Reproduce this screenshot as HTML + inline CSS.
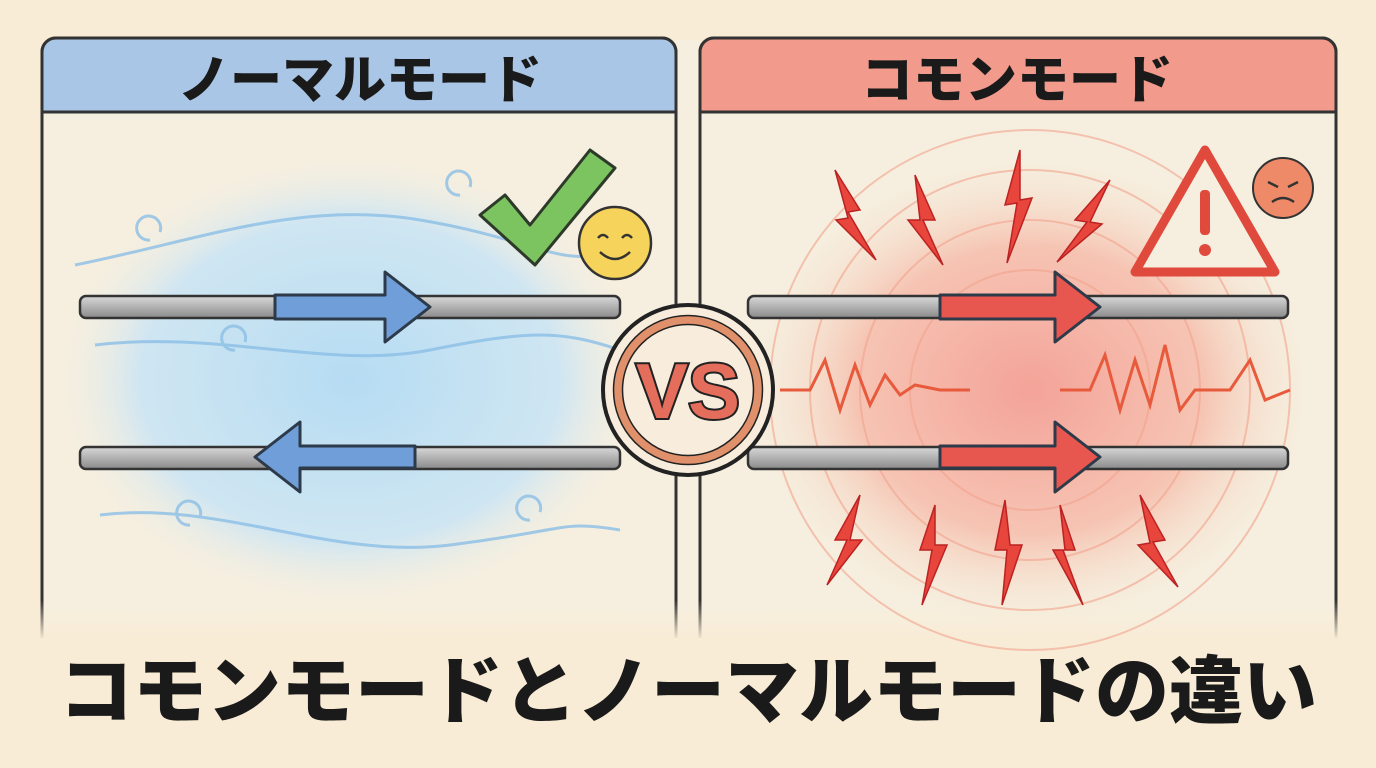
<!DOCTYPE html>
<html><head><meta charset="utf-8"><style>
body{margin:0;width:1376px;height:768px;overflow:hidden;background:#f8ecd6;font-family:"Liberation Sans","Noto Sans CJK JP",sans-serif}
.t{position:absolute;font-weight:900;color:#1a1a1a;text-align:center}
</style></head><body>
<svg width="1376" height="768" style="position:absolute;left:0;top:0">
<defs>
<radialGradient id="bl" cx="50%" cy="50%" r="50%"><stop offset="0" stop-color="#b6dcf3"/><stop offset=".7" stop-color="#cfe6f2"/><stop offset="1" stop-color="#f6efe0" stop-opacity="0"/></radialGradient>
<radialGradient id="rd" cx="50%" cy="50%" r="50%"><stop offset="0" stop-color="#f4a399"/><stop offset=".6" stop-color="#f6c4b3"/><stop offset="1" stop-color="#f8ead6" stop-opacity="0"/></radialGradient>
<linearGradient id="wire" x1="0" y1="0" x2="0" y2="1"><stop offset="0" stop-color="#d8d8d8"/><stop offset="1" stop-color="#8a8a8a"/></linearGradient>
<linearGradient id="fade" x1="0" y1="0" x2="0" y2="1"><stop offset="0" stop-color="#f8ecd6" stop-opacity="0"/><stop offset="1" stop-color="#f8ecd6"/></linearGradient>
</defs>
<rect x="0" y="0" width="1376" height="768" fill="#f8ecd6"/>
<rect x="676" y="40" width="24" height="600" fill="#f6efe0"/>
<rect x="42" y="38" width="634" height="620" rx="14" fill="#f6efe0" stroke="#333" stroke-width="3"/>
<ellipse cx="350" cy="380" rx="300" ry="230" fill="url(#bl)"/>
<path d="M42 112 V52 a14 14 0 0 1 14 -14 H662 a14 14 0 0 1 14 14 V112 Z" fill="#a9c6e6" stroke="#333" stroke-width="3"/>
<rect x="700" y="38" width="636" height="620" rx="14" fill="#f6efe0" stroke="#333" stroke-width="3"/>
<ellipse cx="1030" cy="390" rx="290" ry="240" fill="url(#rd)"/>
<path d="M700 112 V52 a14 14 0 0 1 14 -14 H1322 a14 14 0 0 1 14 14 V112 Z" fill="#f29a8b" stroke="#333" stroke-width="3"/>
<rect x="0" y="600" width="1376" height="40" fill="url(#fade)"/>
<rect x="0" y="638" width="1376" height="130" fill="#f8ecd6"/>
<g fill="none" stroke="#8cbfe6" stroke-width="3" opacity=".8">
<path d="M75 265 C200 240 300 200 420 220 S560 270 620 250"/>
<path d="M95 345 C220 330 330 370 430 350 S560 330 620 350"/>
<path d="M100 515 C220 500 330 560 450 545 S560 520 620 530"/>
<path d="M150 240 a12 12 0 1 1 10 -8"/><path d="M460 195 a12 12 0 1 1 10 -8"/><path d="M190 525 a12 12 0 1 1 10 -8"/><path d="M530 520 a12 12 0 1 1 10 -8"/><path d="M235 350 a12 12 0 1 1 10 -8"/>
</g>
<g fill="none" stroke="#f2a38d" stroke-width="2" opacity=".6">
<circle cx="1030" cy="390" r="120"/><circle cx="1030" cy="390" r="170"/><circle cx="1030" cy="390" r="220"/><circle cx="1030" cy="390" r="260"/>
</g>
<g stroke="#333" stroke-width="2.5">
<rect x="80" y="296" width="540" height="22" rx="6" fill="url(#wire)"/>
<rect x="80" y="447" width="540" height="22" rx="6" fill="url(#wire)"/>
<rect x="748" y="296" width="540" height="22" rx="6" fill="url(#wire)"/>
<rect x="748" y="447" width="540" height="22" rx="6" fill="url(#wire)"/>
</g>
<g stroke="#2d3a4a" stroke-width="3" stroke-linejoin="round">
<path d="M275 295 H385 V272 L430 307 L385 342 V319 H275 Z" fill="#6f9ed8"/>
<path d="M415 446 H300 V422 L255 457 L300 492 V468 H415 Z" fill="#6f9ed8"/>
<path d="M940 295 H1055 V272 L1100 307 L1055 342 V319 H940 Z" fill="#e8574f"/>
<path d="M940 446 H1055 V422 L1100 457 L1055 492 V468 H940 Z" fill="#e8574f"/>
</g>
<g fill="none" stroke="#e85a3c" stroke-width="3">
<polyline points="780,390 810,390 825,360 840,410 855,365 870,405 885,375 900,395 915,385 940,390 970,390"/>
<polyline points="1060,390 1090,390 1105,355 1120,410 1135,360 1150,405 1165,345 1180,410 1195,390 1230,390 1250,360 1265,400 1290,390"/>
</g>
<g fill="#e8463c" stroke="#b22" stroke-width="1.5">
<path d="M835 170 l25 40 -12 2 28 48 -40 -40 12 -2 z"/><path d="M915 175 l20 45 -12 0 20 45 -35 -45 12 0 z"/><path d="M1020 150 l-15 55 12 -2 -10 60 25 -65 -12 2 z"/><path d="M1110 180 l-35 40 12 2 -30 40 45 -38 -12 -2 z"/>
<path d="M860 495 l-25 45 12 0 -20 45 35 -45 -12 0 z"/><path d="M935 505 l-15 45 12 0 -10 55 25 -60 -12 0 z"/><path d="M1005 500 l-10 50 12 0 -5 55 20 -60 -12 0 z"/><path d="M1060 505 l15 45 -12 0 20 55 -30 -55 12 0 z"/><path d="M1140 495 l25 45 -12 2 25 45 -40 -42 12 -2 z"/>
</g>
<path d="M1205 150 L1275 272 H1135 Z" fill="#f6efe0" stroke="#e04a3c" stroke-width="9" stroke-linejoin="round"/>
<rect x="1200" y="190" width="10" height="45" rx="4" fill="#e04a3c"/><circle cx="1205" cy="250" r="6" fill="#e04a3c"/>
<circle cx="1283" cy="188" r="30" fill="#ef8a68" stroke="#333" stroke-width="2"/>
<path d="M1268 182 l10 5 M1298 182 l-10 5 M1272 202 q11 -8 22 0" fill="none" stroke="#333" stroke-width="2.5"/>
<path d="M480 215 L505 195 L530 225 L590 150 L615 168 L535 265 Z" fill="#7cc460" stroke="#2d3a2a" stroke-width="3" stroke-linejoin="round"/>
<circle cx="615" cy="243" r="36" fill="#f6d35a" stroke="#333" stroke-width="2.5"/>
<path d="M598 238 q5 -6 10 0 M622 238 q5 -6 10 0 M600 252 q15 14 30 0" fill="none" stroke="#333" stroke-width="2.5"/>
<circle cx="688" cy="390" r="85" fill="#f8ecdc" stroke="#222" stroke-width="4"/>
<circle cx="688" cy="390" r="70" fill="none" stroke="#e0906a" stroke-width="9"/>
<circle cx="688" cy="390" r="74.5" fill="none" stroke="#222" stroke-width="1.5"/>
<circle cx="688" cy="390" r="65.5" fill="none" stroke="#222" stroke-width="1.5"/>
<text x="688" y="418" text-anchor="middle" font-family="Liberation Sans" font-weight="900" font-size="78" fill="#e46d5c" stroke="#222" stroke-width="4" paint-order="stroke">VS</text>
</svg>
<div class="t" style="left:0;top:46px;width:720px;font-size:52px;line-height:70px">ノーマルモード</div>
<div class="t" style="left:698px;top:46px;width:638px;font-size:52px;line-height:70px">コモンモード</div>
<div class="t" style="left:0;top:644px;width:1376px;font-size:74px;line-height:96px">コモンモードとノーマルモードの違い</div>
</body></html>
